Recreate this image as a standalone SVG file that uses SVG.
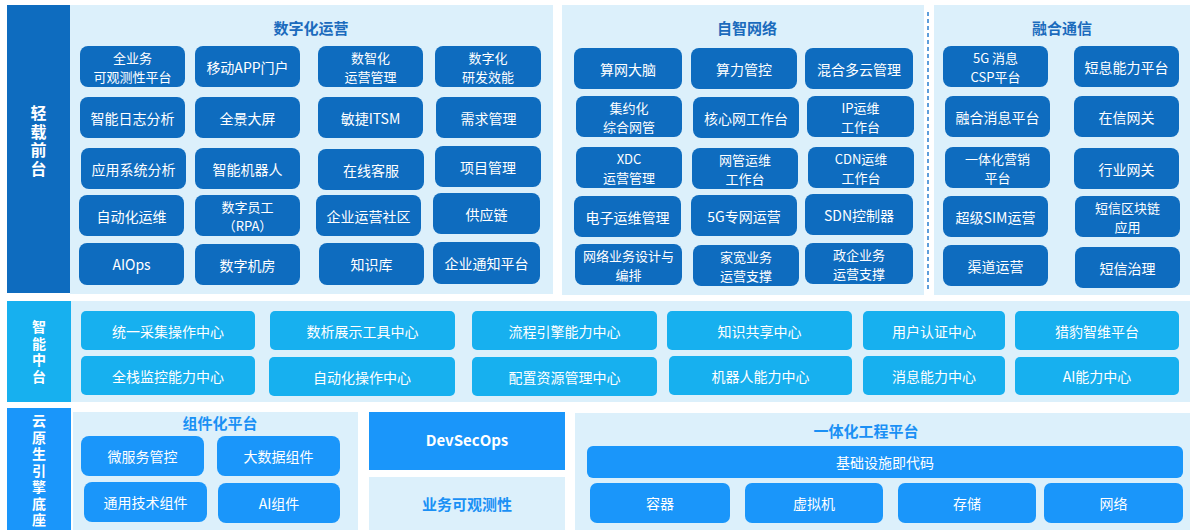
<svg xmlns="http://www.w3.org/2000/svg" width="1192" height="530" viewBox="0 0 1192 530">
<style>
.pn{fill:#dcf0fb}
.dk{fill:#0e6cbf}
.cy{fill:#17b0ef}
.bl{fill:#1a96fa}
.t{font-family:"Noto Sans CJK SC","Noto Sans",sans-serif;font-size:14px;fill:#ffffff;text-anchor:middle;dominant-baseline:central}
.t2{font-family:"Noto Sans CJK SC","Noto Sans",sans-serif;font-size:13px;fill:#ffffff;text-anchor:middle;dominant-baseline:central}
.h{font-family:"Noto Sans CJK SC","Noto Sans",sans-serif;font-size:15px;font-weight:bold;fill:#1b6bbd;text-anchor:middle;dominant-baseline:central}
.hb{fill:#1a90f5}
.vt{font-family:"Noto Sans CJK SC","Noto Sans",sans-serif;font-size:15px;font-weight:bold;fill:#ffffff;text-anchor:middle;dominant-baseline:central}
.vert{font-family:"Noto Sans CJK SC","Noto Sans",sans-serif;font-weight:bold;fill:#ffffff;text-anchor:middle;writing-mode:vertical-rl}
.sep{stroke:#2a7fd0;stroke-width:1.5;stroke-dasharray:4 3;fill:none}
</style>
<rect width="1192" height="530" fill="#ffffff"/>

<!-- ===== Layer 1: 轻载前台 ===== -->
<g id="layer-qianzai">
  <rect class="dk" x="7" y="5" width="63" height="288"/>
  <text class="vert" style="font-size:16px;letter-spacing:2.5px" x="38.5" y="142">轻载前台</text>
</g>

<g id="panel-shuzihua">
  <rect class="pn" x="70" y="5" width="483" height="289"/>
  <text class="h" x="311" y="27">数字化运营</text>
</g>
<g id="panel-zizhi">
  <rect class="pn" x="562" y="5" width="362" height="290"/>
  <text class="h" x="747" y="27">自智网络</text>
</g>
<g id="panel-ronghe">
  <rect class="pn" x="934" y="5" width="256" height="290"/>
  <text class="h" x="1062" y="27">融合通信</text>
</g>
<g id="separators">
  <line class="sep" x1="928" y1="12" x2="928" y2="290"/>
</g>

<!-- 数字化运营 nodes -->
<g id="n-quanyewu"><rect class="dk" x="80" y="46" width="105" height="41" rx="8"/><text class="t2" x="132.5" y="57"><tspan x="132.5" y="57">全业务</tspan><tspan x="132.5" y="76">可观测性平台</tspan></text></g>
<g id="n-yidongapp"><rect class="dk" x="195" y="46" width="105" height="41" rx="8"/><text class="t" x="247.5" y="66.5">移动APP门户</text></g>
<g id="n-shuzhihua"><rect class="dk" x="318" y="46" width="105" height="41" rx="8"/><text class="t2" x="370.5" y="57"><tspan x="370.5" y="57">数智化</tspan><tspan x="370.5" y="76">运营管理</tspan></text></g>
<g id="n-shuzihua-yanfa"><rect class="dk" x="435" y="46" width="106" height="41" rx="8"/><text class="t2" x="488" y="57"><tspan x="488" y="57">数字化</tspan><tspan x="488" y="76">研发效能</tspan></text></g>

<g id="n-rizhi"><rect class="dk" x="80" y="97" width="105" height="41" rx="8"/><text class="t" x="132.5" y="117.5">智能日志分析</text></g>
<g id="n-quanjing"><rect class="dk" x="195" y="97" width="105" height="41" rx="8"/><text class="t" x="247.5" y="117.5">全景大屏</text></g>
<g id="n-itsm"><rect class="dk" x="318" y="97" width="105" height="41" rx="8"/><text class="t" x="370.5" y="117.5">敏捷ITSM</text></g>
<g id="n-xuqiu"><rect class="dk" x="436" y="97" width="105" height="41" rx="8"/><text class="t" x="488.5" y="117.5">需求管理</text></g>

<g id="n-yingyong"><rect class="dk" x="81" y="148" width="105" height="41" rx="8"/><text class="t" x="133.5" y="168.5">应用系统分析</text></g>
<g id="n-jiqiren"><rect class="dk" x="195" y="148" width="105" height="41" rx="8"/><text class="t" x="247.5" y="168.5">智能机器人</text></g>
<g id="n-kefu"><rect class="dk" x="318" y="149" width="106" height="41" rx="8"/><text class="t" x="371" y="169.5">在线客服</text></g>
<g id="n-xiangmu"><rect class="dk" x="435" y="146" width="106" height="41" rx="8"/><text class="t" x="488" y="166.5">项目管理</text></g>

<g id="n-zidonghua"><rect class="dk" x="79" y="195" width="105" height="41" rx="8"/><text class="t" x="131.5" y="215.5">自动化运维</text></g>
<g id="n-yuangong"><rect class="dk" x="195" y="195" width="105" height="41" rx="8"/><text class="t2" x="247.5" y="206"><tspan x="247.5" y="206">数字员工</tspan><tspan x="247.5" y="225">（RPA）</tspan></text></g>
<g id="n-shequ"><rect class="dk" x="316" y="195" width="105" height="41" rx="8"/><text class="t" x="368.5" y="215.5">企业运营社区</text></g>
<g id="n-gongying"><rect class="dk" x="433" y="193" width="107" height="41" rx="8"/><text class="t" x="486.5" y="213.5">供应链</text></g>

<g id="n-aiops"><rect class="dk" x="79" y="243" width="105" height="42" rx="8"/><text class="t" x="131.5" y="264">AIOps</text></g>
<g id="n-jifang"><rect class="dk" x="195" y="244" width="105" height="41" rx="8"/><text class="t" x="247.5" y="264.5">数字机房</text></g>
<g id="n-zhishiku"><rect class="dk" x="319" y="243" width="105" height="42" rx="8"/><text class="t" x="371.5" y="264">知识库</text></g>
<g id="n-tongzhi"><rect class="dk" x="433" y="242" width="107" height="42" rx="8"/><text class="t" x="486.5" y="263">企业通知平台</text></g>

<!-- 自智网络 nodes -->
<g id="n-suanwang"><rect class="dk" x="574" y="48" width="108" height="41" rx="8"/><text class="t" x="628" y="68.5">算网大脑</text></g>
<g id="n-suanli"><rect class="dk" x="691" y="48" width="106" height="41" rx="8"/><text class="t" x="744" y="68.5">算力管控</text></g>
<g id="n-hunhe"><rect class="dk" x="805" y="48" width="108" height="41" rx="8"/><text class="t" x="859" y="68.5">混合多云管理</text></g>

<g id="n-jiyue"><rect class="dk" x="576" y="96" width="106" height="41" rx="8"/><text class="t2" x="629" y="107"><tspan x="629" y="107">集约化</tspan><tspan x="629" y="126">综合网管</tspan></text></g>
<g id="n-hexin"><rect class="dk" x="693" y="97" width="106" height="41" rx="8"/><text class="t" x="746" y="117.5">核心网工作台</text></g>
<g id="n-ip"><rect class="dk" x="807" y="96" width="107" height="41" rx="8"/><text class="t2" x="860.5" y="107"><tspan x="860.5" y="107">IP运维</tspan><tspan x="860.5" y="126">工作台</tspan></text></g>

<g id="n-xdc"><rect class="dk" x="576" y="147" width="106" height="41" rx="8"/><text class="t2" x="629" y="158"><tspan x="629" y="158">XDC</tspan><tspan x="629" y="177">运营管理</tspan></text></g>
<g id="n-wangguan"><rect class="dk" x="692" y="148" width="106" height="41" rx="8"/><text class="t2" x="745" y="159"><tspan x="745" y="159">网管运维</tspan><tspan x="745" y="178">工作台</tspan></text></g>
<g id="n-cdn"><rect class="dk" x="808" y="147" width="106" height="41" rx="8"/><text class="t2" x="861" y="158"><tspan x="861" y="158">CDN运维</tspan><tspan x="861" y="177">工作台</tspan></text></g>

<g id="n-dianzi"><rect class="dk" x="574" y="196" width="107" height="41" rx="8"/><text class="t" x="627.5" y="216.5">电子运维管理</text></g>
<g id="n-5gzhuanwang"><rect class="dk" x="691" y="195" width="106" height="41" rx="8"/><text class="t" x="744" y="215.5">5G专网运营</text></g>
<g id="n-sdn"><rect class="dk" x="805" y="194" width="108" height="41" rx="8"/><text class="t" x="859" y="214.5">SDN控制器</text></g>

<g id="n-sheji"><rect class="dk" x="575" y="244" width="107" height="41" rx="8"/><text class="t2" x="628.5" y="255"><tspan x="628.5" y="255">网络业务设计与</tspan><tspan x="628.5" y="274">编排</tspan></text></g>
<g id="n-jiakuan"><rect class="dk" x="693" y="245" width="106" height="41" rx="8"/><text class="t2" x="746" y="256"><tspan x="746" y="256">家宽业务</tspan><tspan x="746" y="275">运营支撑</tspan></text></g>
<g id="n-zhengqi"><rect class="dk" x="805" y="243" width="108" height="41" rx="8"/><text class="t2" x="859" y="254"><tspan x="859" y="254">政企业务</tspan><tspan x="859" y="273">运营支撑</tspan></text></g>

<!-- 融合通信 nodes -->
<g id="n-5gxiaoxi"><rect class="dk" x="943" y="46" width="105" height="41" rx="8"/><text class="t2" x="995.5" y="57"><tspan x="995.5" y="57">5G 消息</tspan><tspan x="995.5" y="76">CSP平台</tspan></text></g>
<g id="n-duanxi"><rect class="dk" x="1074" y="46" width="105" height="41" rx="8"/><text class="t" x="1126.5" y="66.5">短息能力平台</text></g>
<g id="n-ronghexiaoxi"><rect class="dk" x="945" y="96" width="105" height="41" rx="8"/><text class="t" x="997.5" y="116.5">融合消息平台</text></g>
<g id="n-zaixin"><rect class="dk" x="1074" y="96" width="105" height="41" rx="8"/><text class="t" x="1126.5" y="116.5">在信网关</text></g>
<g id="n-yingxiao"><rect class="dk" x="945" y="147" width="105" height="41" rx="8"/><text class="t2" x="997.5" y="158"><tspan x="997.5" y="158">一体化营销</tspan><tspan x="997.5" y="177">平台</tspan></text></g>
<g id="n-hangye"><rect class="dk" x="1074" y="148" width="105" height="41" rx="8"/><text class="t" x="1126.5" y="168.5">行业网关</text></g>
<g id="n-sim"><rect class="dk" x="943" y="196" width="105" height="41" rx="8"/><text class="t" x="995.5" y="216.5">超级SIM运营</text></g>
<g id="n-qukuailian"><rect class="dk" x="1075" y="196" width="105" height="41" rx="8"/><text class="t2" x="1127.5" y="207"><tspan x="1127.5" y="207">短信区块链</tspan><tspan x="1127.5" y="226">应用</tspan></text></g>
<g id="n-qudao"><rect class="dk" x="943" y="245" width="105" height="41" rx="8"/><text class="t" x="995.5" y="265.5">渠道运营</text></g>
<g id="n-zhili"><rect class="dk" x="1075" y="247" width="105" height="41" rx="8"/><text class="t" x="1127.5" y="267.5">短信治理</text></g>

<!-- ===== Layer 2: 智能中台 ===== -->
<g id="layer-zhongtai">
  <rect class="cy" x="7" y="301" width="64" height="101"/>
  <text class="vert" style="font-size:14px;letter-spacing:2.5px" x="39" y="353">智能中台</text>
</g>
<g id="panel-zhongtai">
  <rect class="pn" x="71" y="301" width="1119" height="101"/>
</g>
<g id="n-caiji"><rect class="cy" x="81" y="311" width="174" height="39" rx="5"/><text class="t" x="168" y="330.5">统一采集操作中心</text></g>
<g id="n-shuxi"><rect class="cy" x="270" y="311" width="185" height="39" rx="5"/><text class="t" x="362.5" y="330.5">数析展示工具中心</text></g>
<g id="n-liucheng"><rect class="cy" x="472" y="311" width="185" height="39" rx="5"/><text class="t" x="564.5" y="330.5">流程引擎能力中心</text></g>
<g id="n-zhishi"><rect class="cy" x="667" y="311" width="185" height="39" rx="5"/><text class="t" x="759.5" y="330.5">知识共享中心</text></g>
<g id="n-renzheng"><rect class="cy" x="863" y="311" width="142" height="39" rx="5"/><text class="t" x="934" y="330.5">用户认证中心</text></g>
<g id="n-liebao"><rect class="cy" x="1015" y="311" width="164" height="39" rx="5"/><text class="t" x="1097" y="330.5">猎豹智维平台</text></g>

<g id="n-quanzhan"><rect class="cy" x="81" y="356" width="174" height="39" rx="5"/><text class="t" x="168" y="375.5">全栈监控能力中心</text></g>
<g id="n-zidong"><rect class="cy" x="269" y="357" width="186" height="39" rx="5"/><text class="t" x="362" y="376.5">自动化操作中心</text></g>
<g id="n-peizhi"><rect class="cy" x="472" y="357" width="185" height="39" rx="5"/><text class="t" x="564.5" y="376.5">配置资源管理中心</text></g>
<g id="n-jiqirennl"><rect class="cy" x="669" y="356" width="183" height="39" rx="5"/><text class="t" x="760.5" y="375.5">机器人能力中心</text></g>
<g id="n-xiaoxi"><rect class="cy" x="863" y="356" width="142" height="39" rx="5"/><text class="t" x="934" y="375.5">消息能力中心</text></g>
<g id="n-ai"><rect class="cy" x="1015" y="357" width="164" height="38" rx="5"/><text class="t" x="1097" y="376">AI能力中心</text></g>

<!-- ===== Layer 3: 云原生引擎底座 ===== -->
<g id="layer-dizuo">
  <rect class="bl" x="7" y="408" width="64" height="122"/>
  <text class="vert" style="font-size:14px;letter-spacing:2.5px" x="39" y="471.5">云原生引擎底座</text>
</g>

<g id="panel-zujian">
  <rect class="pn" x="73" y="412" width="285" height="118"/>
  <text class="h hb" x="220" y="422">组件化平台</text>
</g>
<g id="n-weifuwu"><rect class="bl" x="81" y="436" width="123" height="40" rx="8"/><text class="t" x="142.5" y="456">微服务管控</text></g>
<g id="n-dashuju"><rect class="bl" x="217" y="436" width="123" height="40" rx="8"/><text class="t" x="278.5" y="456">大数据组件</text></g>
<g id="n-tongyong"><rect class="bl" x="84" y="482" width="123" height="40" rx="8"/><text class="t" x="145.5" y="502">通用技术组件</text></g>
<g id="n-aizujian"><rect class="bl" x="218" y="483" width="122" height="40" rx="8"/><text class="t" x="279" y="503">AI组件</text></g>

<g id="n-devsecops"><rect class="bl" x="369" y="412" width="196" height="58"/><text class="vt" x="467" y="439">DevSecOps</text></g>
<g id="n-kuanceixing"><rect class="pn" x="369" y="477" width="196" height="53"/><text class="h hb" x="467" y="503">业务可观测性</text></g>

<g id="panel-yitihua">
  <rect class="pn" x="575" y="413" width="615" height="117"/>
  <text class="h hb" x="866" y="430">一体化工程平台</text>
</g>
<g id="n-jichusheshi"><rect class="bl" x="587" y="446" width="596" height="32" rx="6"/><text class="t" x="885" y="462">基础设施即代码</text></g>
<g id="n-rongqi"><rect class="bl" x="590" y="483" width="140" height="40" rx="7"/><text class="t" x="660" y="503">容器</text></g>
<g id="n-xuniji"><rect class="bl" x="745" y="483" width="138" height="40" rx="7"/><text class="t" x="814" y="503">虚拟机</text></g>
<g id="n-cunchu"><rect class="bl" x="898" y="483" width="138" height="40" rx="7"/><text class="t" x="967" y="503">存储</text></g>
<g id="n-wangluo"><rect class="bl" x="1044" y="483" width="139" height="40" rx="7"/><text class="t" x="1113.5" y="503">网络</text></g>

<g id="connectors"></g>
</svg>
